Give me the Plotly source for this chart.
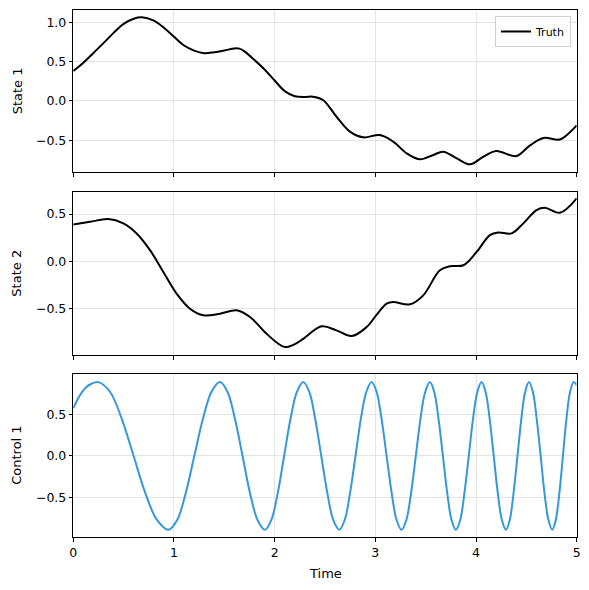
import plotly.graph_objects as go

# values
state1_t = [0, 0.1, 0.2, 0.3, 0.4, 0.5, 0.6, 0.68, 0.8, 0.9, 1.0, 1.1, 1.2, 1.3, 1.4, 1.5,
            1.6, 1.65, 1.7, 1.8, 1.9, 2.0, 2.1, 2.2, 2.3, 2.38, 2.48, 2.615, 2.748, 2.88,
            3.046, 3.178, 3.311, 3.443, 3.575, 3.674, 3.81, 3.94, 4.07, 4.2, 4.4, 4.53,
            4.67, 4.83, 4.93, 5.0]
state1_v = [0.38, 0.485, 0.61, 0.735, 0.865, 0.98, 1.045, 1.063, 1.02, 0.93, 0.815, 0.705,
            0.64, 0.607, 0.62, 0.642, 0.667, 0.665, 0.63, 0.52, 0.40, 0.26, 0.125, 0.06,
            0.05, 0.055, 0.013, -0.2, -0.39, -0.462, -0.432, -0.517, -0.665, -0.741,
            -0.686, -0.644, -0.73, -0.805, -0.71, -0.635, -0.70, -0.57, -0.47, -0.49,
            -0.40, -0.31]

state2_t = [0, 0.166, 0.348, 0.497, 0.629, 0.762, 0.894, 1.026, 1.159, 1.291, 1.457, 1.623,
            1.755, 1.92, 2.03, 2.102, 2.2, 2.284, 2.467, 2.615, 2.765, 2.913, 3.012, 3.112,
            3.178, 3.344, 3.476, 3.641, 3.741, 3.874, 4.006, 4.138, 4.221, 4.353, 4.469,
            4.601, 4.684, 4.833, 5.0]
state2_v = [0.39, 0.418, 0.447, 0.401, 0.294, 0.117, -0.114, -0.344, -0.504, -0.574, -0.557,
            -0.521, -0.592, -0.77, -0.87, -0.911, -0.88, -0.823, -0.691, -0.734, -0.794,
            -0.699, -0.57, -0.45, -0.433, -0.457, -0.362, -0.096, -0.053, -0.043, 0.099,
            0.277, 0.305, 0.295, 0.401, 0.543, 0.567, 0.514, 0.667]

control_t = [0, 0.06, 0.12, 0.18, 0.25,
             0.366, 0.482, 0.599, 0.715, 0.831, 0.947,
             1.032, 1.117, 1.202, 1.287, 1.372, 1.457,
             1.532, 1.606, 1.681, 1.755, 1.83, 1.904,
             1.967, 2.031, 2.094, 2.157, 2.221, 2.284,
             2.344, 2.403, 2.463, 2.523, 2.582, 2.642,
             2.696, 2.749, 2.803, 2.856, 2.91, 2.963,
             3.013, 3.062, 3.112, 3.162, 3.211, 3.261,
             3.308, 3.355, 3.402, 3.448, 3.495, 3.542,
             3.585, 3.628, 3.671, 3.714, 3.757, 3.80,
             3.843, 3.885, 3.928, 3.97, 4.013, 4.055,
             4.095, 4.136, 4.176, 4.216, 4.257, 4.297,
             4.335, 4.373, 4.412, 4.45, 4.488, 4.526,
             4.565, 4.603, 4.642, 4.68, 4.719, 4.757,
             4.792, 4.828, 4.863, 4.898, 4.934, 4.969,
             5.0]
control_v = [0.575, 0.72, 0.82, 0.87, 0.89,
             0.771, 0.445, 0, -0.445, -0.771, -0.89,
             -0.771, -0.445, 0, 0.445, 0.771, 0.89,
             0.771, 0.445, 0, -0.445, -0.771, -0.89,
             -0.771, -0.445, 0, 0.445, 0.771, 0.89,
             0.771, 0.445, 0, -0.445, -0.771, -0.89,
             -0.771, -0.445, 0, 0.445, 0.771, 0.89,
             0.771, 0.445, 0, -0.445, -0.771, -0.89,
             -0.771, -0.445, 0, 0.445, 0.771, 0.89,
             0.771, 0.445, 0, -0.445, -0.771, -0.89,
             -0.771, -0.445, 0, 0.445, 0.771, 0.89,
             0.771, 0.445, 0, -0.445, -0.771, -0.89,
             -0.771, -0.445, 0, 0.445, 0.771, 0.89,
             0.771, 0.445, 0, -0.445, -0.771, -0.89,
             -0.771, -0.445, 0, 0.445, 0.771, 0.89,
             0.855]

x_ticks = [0, 1, 2, 3, 4, 5]

fig = go.Figure()
fig.add_trace(go.Scatter(x=state1_t, y=state1_v, mode='lines', name='Truth',
                         line=dict(color='black', width=2, shape='spline', smoothing=1),
                         xaxis='x', yaxis='y'))
fig.add_trace(go.Scatter(x=state2_t, y=state2_v, mode='lines', showlegend=False,
                         line=dict(color='black', width=2, shape='spline', smoothing=1),
                         xaxis='x2', yaxis='y2'))
fig.add_trace(go.Scatter(x=control_t, y=control_v, mode='lines', showlegend=False,
                         line=dict(color='#3498db', width=2, shape='spline', smoothing=1),
                         xaxis='x3', yaxis='y3'))

# page body has an 8px margin, so the figure is drawn 8px in from the corner
OFF = 8
W, H = 573, 574


def px(x):
    return (x - OFF) / W


def py(y):
    return 1 - (y - OFF) / H


xdom = [px(73.3), px(576.7)]
ydoms = [[py(172.3), py(10.3)],
         [py(355), py(192.3)],
         [py(537.3), py(374.3)]]
yranges = [[-0.906, 1.152], [-0.995, 0.731], [-0.98, 0.984]]

axis_common = dict(showline=True, linecolor='black', linewidth=1, mirror=True,
                   ticks='outside', ticklen=3.5, tickwidth=0.8, tickcolor='black',
                   showgrid=True, gridcolor='#e4e4e4', gridwidth=0.8,
                   zeroline=False, automargin=False,
                   tickfont=dict(size=12.5, color='black'))

layout = {}
for i in range(3):
    s = '' if i == 0 else str(i + 1)
    layout['xaxis' + s] = dict(axis_common, domain=xdom, range=[0, 5], tickvals=x_ticks,
                               showticklabels=(i == 2), anchor='y' + s)
    layout['yaxis' + s] = dict(axis_common, domain=ydoms[i], range=yranges[i],
                               dtick=0.5, tick0=0, tickformat='.1f', anchor='x' + s)

fig.update_layout(**layout)

labels = ['State 1', 'State 2', 'Control 1']
for i, lab in enumerate(labels):
    fig.add_annotation(text=lab, textangle=-90, xref='paper', yref='paper',
                       x=px(17), y=sum(ydoms[i]) / 2, showarrow=False,
                       xanchor='center', yanchor='middle',
                       font=dict(size=13, color='black'))
fig.add_annotation(text='Time', xref='paper', yref='paper', x=px(325), y=py(573),
                   showarrow=False, xanchor='center', yanchor='middle',
                   font=dict(size=13, color='black'))

fig.update_layout(
    width=W, height=H,
    margin=dict(l=0, r=0, t=0, b=0),
    paper_bgcolor='white', plot_bgcolor='white',
    font=dict(family='DejaVu Sans', color='black'),
    legend=dict(x=px(571), y=py(16), xanchor='right', yanchor='top',
                bgcolor='rgba(255,255,255,0.8)', bordercolor='#d0d0d0', borderwidth=1,
                font=dict(size=11), itemwidth=30),
)

fig.write_html('out.html')
